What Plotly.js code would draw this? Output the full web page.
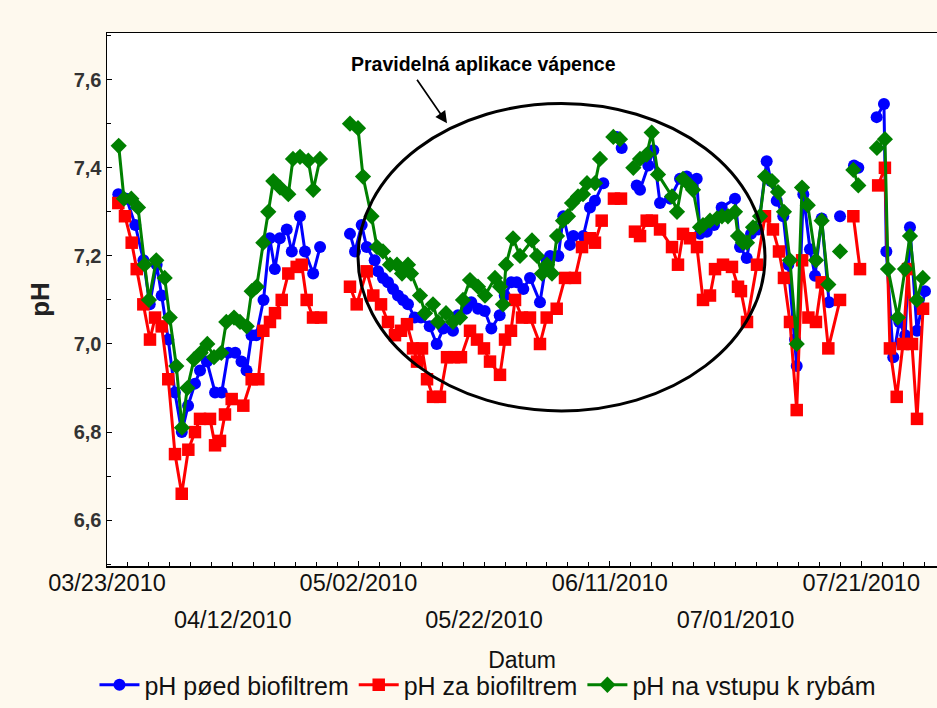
<!DOCTYPE html>
<html><head><meta charset="utf-8">
<script src="https://cdn.plot.ly/plotly-3.0.1.min.js"></script>
<style>html,body{margin:0;padding:0;background:#fef9ee}</style>
</head><body>
<div id="chart" style="width:937px;height:708px"></div>
<script>
// day offsets from 2010-03-23, pH values (null = gap in the record)
const blueData = [[1.8,7.34],[3.1,7.33],[4.5,7.27],[5.8,7.19],[6.8,7.09],[7.9,7.18],[8.7,7.11],[9.75,7.01],[10.8,6.89],[11.9,6.80],[12.9,6.86],[14.0,6.91],[14.8,6.94],[15.9,6.96],[17.2,6.89],[18.25,6.89],[19.3,6.98],[20.4,6.98],[21.4,6.96],[22.2,6.94],[23.0,7.02],[23.75,7.02],[24.9,7.10],[25.9,7.24],[26.7,7.17],[27.5,7.24],[28.6,7.26],[29.4,7.21],[30.7,7.29],[31.5,7.21],[32.8,7.16],[33.9,7.22],[36,null],
[38.66,7.25],[39.46,7.21],[40.52,7.27],[41.32,7.22],[42.59,7.19],[43.12,7.165],[43.91,7.15],[44.71,7.14],[45.51,7.125],[46.3,7.11],[47.1,7.10],[47.89,7.09],[48.96,7.06],[49.96,7.06],[51.34,7.04],[52.46,7.00],[53.51,7.035],[55.05,7.03],[55.85,7.065],[57.17,7.08],[57.96,7.095],[59.03,7.08],[60.1,7.075],[61.15,7.035],[62.48,7.065],[63.28,7.11],[64.33,7.14],[65.19,7.14],[66.24,7.125],[67.3,7.15],[68.89,7.095],[69.96,7.19],[70.49,7.20],[71.81,7.20],[72.6,7.29],[73.66,7.225],[74.19,7.245],[75.78,7.245],[76.85,7.31],[77.64,7.325],[78.97,7.365],[80,null],
[81.1,7.47],[81.89,7.445],[82.8,null],
[84.28,7.36],[84.81,7.35],[86.13,7.405],[86.92,7.44],[87.99,7.32],[89.58,7.33],[91.17,7.375],[92.24,7.38],[93.83,7.375],[94.35,7.25],[95.42,7.255],[96.58,7.27],[97.8,7.31],[99.92,7.33],[100.72,7.22],[101.78,7.195],[102.47,7.25],[103.6,7.26],[104.96,7.415],[105.65,7.37],[106.56,7.325],[107.6,7.29],[108.4,7.18],[109.47,7.01],[109.74,6.95],[110.79,7.34],[111.85,7.215],[112.65,7.155],[113.71,7.285],[114.88,7.095],[115.8,null],
[116.63,7.29],[117.8,null],
[118.85,7.405],[119.54,7.40],[121,null],
[122.46,7.515],[123.62,7.545],[124.0,7.21],[125.1,6.97],[126.06,7.05],[127.0,7.02],[127.76,7.265],[128.88,7.03],[130.15,7.12]];

const redData = [[1.8,7.32],[2.86,7.29],[3.93,7.23],[4.73,7.17],[5.78,7.09],[6.84,7.01],[7.64,7.06],[8.70,7.04],[9.75,6.92],[10.82,6.75],[11.89,6.66],[12.94,6.76],[14.0,6.80],[14.8,6.83],[16.39,6.83],[17.19,6.77],[17.98,6.78],[18.77,6.84],[19.84,6.875],[21.69,6.86],[23.02,6.92],[24.07,6.92],[24.87,7.03],[25.93,7.05],[26.73,7.07],[27.80,7.10],[28.85,7.16],[30.18,7.175],[30.98,7.18],[31.77,7.10],[32.78,7.06],[34.05,7.06],[36,null],
[38.66,7.13],[39.73,7.09],[41.32,7.165],[42.37,7.11],[43.6,7.09],[44.71,7.05],[45.82,7.02],[46.78,7.03],[47.73,7.045],[48.69,6.99],[49.33,6.96],[50.12,6.99],[50.92,6.92],[51.87,6.88],[52.98,6.88],[54.1,6.97],[55.21,6.97],[56.32,6.97],[57.76,7.03],[58.87,7.01],[59.98,6.99],[60.94,6.96],[62.53,6.93],[63.33,7.01],[64.28,7.03],[64.92,7.10],[66.03,7.06],[67.3,7.06],[68.89,7.00],[69.96,7.06],[71.55,7.08],[72.87,7.15],[74.46,7.15],[75.58,7.22],[76.85,7.24],[77.64,7.23],[78.71,7.28],[79.8,null],
[80.66,7.33],[81.78,7.33],[82.8,null],
[84.0,7.255],[84.81,7.245],[85.87,7.28],[86.71,7.28],[87.99,7.26],[89.9,7.22],[90.85,7.18],[91.65,7.25],[92.76,7.24],[93.87,7.22],[94.83,7.10],[95.94,7.11],[96.74,7.17],[98.01,7.18],[99.44,7.175],[100.4,7.13],[100.87,7.12],[101.83,7.05],[103.42,7.18],[104.69,7.29],[105.96,7.26],[106.92,7.21],[107.71,7.15],[108.67,7.05],[109.74,6.85],[110.6,7.19],[111.6,7.06],[112.8,7.05],[113.71,7.14],[114.77,6.99],[116.63,7.10],[117.8,null],
[118.75,7.29],[119.81,7.17],[121,null],
[122.7,7.36],[123.77,7.40],[124.57,6.99],[125.65,6.88],[126.65,7.00],[127.45,7.17],[128.08,7.00],[128.88,6.83],[129.84,7.08]];

const greenData = [[1.86,7.45],[2.70,7.33],[3.87,7.33],[4.93,7.31],[6.0,7.18],[6.68,7.10],[7.84,7.19],[9.18,7.15],[9.98,7.06],[11.03,6.95],[11.93,6.81],[12.78,6.90],[13.84,6.965],[14.91,6.98],[15.96,7.00],[17.02,6.97],[18.19,6.98],[18.98,7.05],[20.21,7.06],[21.16,7.05],[22.23,7.04],[23.02,7.12],[23.82,7.13],[24.87,7.23],[25.66,7.30],[26.46,7.37],[27.53,7.355],[28.85,7.34],[29.59,7.42],[30.71,7.425],[32.03,7.416],[32.82,7.35],[33.89,7.42],[36,null],
[38.66,7.50],[39.94,7.49],[40.73,7.38],[42.08,7.29],[42.96,7.22],[43.91,7.21],[45.03,7.18],[46.14,7.18],[46.94,7.16],[47.89,7.18],[48.37,7.16],[49.8,7.11],[50.6,7.07],[51.87,7.09],[52.66,7.05],[53.94,7.07],[55.05,7.05],[56.17,7.06],[56.64,7.10],[57.76,7.145],[59.03,7.13],[60.14,7.11],[61.73,7.15],[62.53,7.13],[63.0,7.09],[63.48,7.18],[64.6,7.24],[65.71,7.20],[67.62,7.235],[68.42,7.20],[69.21,7.16],[70.01,7.18],[70.8,7.16],[71.6,7.245],[72.55,7.28],[73.35,7.29],[73.99,7.32],[74.94,7.335],[75.74,7.34],[76.37,7.365],[77.64,7.365],[78.44,7.42],[79.7,null],
[80.56,7.47],[81.62,7.465],[82.6,null],
[83.74,7.40],[84.81,7.42],[85.87,7.43],[86.67,7.48],[87.67,7.385],[89.9,7.335],[90.69,7.30],[91.65,7.375],[92.76,7.36],[93.24,7.35],[94.35,7.265],[94.83,7.27],[95.94,7.28],[97.05,7.285],[97.84,7.29],[98.8,7.29],[99.92,7.30],[100.4,7.245],[101.19,7.23],[101.83,7.23],[102.79,7.265],[103.9,7.29],[104.69,7.38],[105.8,7.37],[106.76,7.345],[107.71,7.30],[108.67,7.19],[109.74,7.00],[110.58,7.355],[111.5,7.315],[112.8,7.19],[113.71,7.28],[114.77,7.135],[115.8,null],
[116.63,7.21],[117.8,null],
[118.75,7.395],[119.54,7.36],[121,null],
[122.5,7.445],[123.77,7.465],[124.26,7.17],[125.82,7.06],[126.97,7.17],[127.76,7.245],[128.86,7.10],[129.8,7.15]];

const seriesNames = ['pH pøed biofiltrem','pH za biofiltrem','pH na vstupu k rybám'];
const tickRow1 = ['2010-03-23','2010-05-02','2010-06-11','2010-07-21'];
const tickRow2 = ['2010-04-12','2010-05-22','2010-07-01'];
const noteText = 'Pravidelná aplikace vápence';

const DAY = 86400000, T0 = Date.UTC(2010,2,23);
function toDate(d){ return new Date(T0 + d*DAY).toISOString().slice(0,19).replace('T',' '); }
function lbl(s){ const p=s.split('-'); return p[1]+'/'+p[2]+'/'+p[0]; }

function mk(data, name, color, symbol, size){
  return {x:data.map(p=>toDate(p[0])), y:data.map(p=>p[1]), name:name, type:'scatter', mode:'lines+markers',
    connectgaps:false, line:{color:color,width:3}, marker:{color:color,symbol:symbol,size:size}};
}
const traces = [
  mk(blueData, seriesNames[0], '#0000ff', 'circle', 12),
  mk(redData, seriesNames[1], '#ff0000', 'square', 12.5),
  mk(greenData, seriesNames[2], '#008000', 'diamond', 12.5),
  {x:[], y:[], xaxis:'x2', showlegend:false, hoverinfo:'skip', type:'scatter'}
];

const FONT = 'Liberation Sans, Arial, sans-serif';
const xr = [toDate(0), toDate(132.06)];
const layout = {
  width:937, height:708,
  paper_bgcolor:'#fef9ee', plot_bgcolor:'#ffffff',
  margin:{l:107, r:0, t:33, b:139},
  separators:', ',
  showlegend:true,
  font:{family:FONT, color:'#222'},
  xaxis:{type:'date', range:xr, showline:true, mirror:true, linecolor:'#000', linewidth:1.5,
    showgrid:false, zeroline:false, ticks:'inside', ticklen:5, tickcolor:'#000',
    tickmode:'array', tickvals:tickRow1, ticktext:tickRow1.map(lbl), ticklabelstandoff:-5,
    tickfont:{size:23.5, family:FONT, color:'#111'},
    minor:{ticks:'inside', ticklen:4, tickcolor:'#000', tick0:'2010-03-23', dtick:20*DAY/6, showgrid:false},
    title:{text:'Datum', font:{size:23, family:FONT, color:'#111'}, standoff:57}},
  xaxis2:{type:'date', range:xr, overlaying:'x', anchor:'y', side:'bottom', showline:false, showgrid:false, zeroline:false,
    ticks:'', tickmode:'array', tickvals:tickRow2, ticktext:tickRow2.map(lbl), ticklabelstandoff:37,
    tickfont:{size:23.5, family:FONT, color:'#111'}},
  yaxis:{range:[6.496,7.706], showline:true, mirror:false, linecolor:'#000', linewidth:1.5, showgrid:false, zeroline:false,
    ticks:'inside', ticklen:5, tickcolor:'#000', dtick:0.2, tick0:6.6, tickformat:'.1f',
    minor:{ticks:'inside', ticklen:4, tickcolor:'#000', dtick:0.1, showgrid:false},
    tickfont:{size:20, family:FONT, color:'#333', weight:'bold'},
    title:{text:'pH', font:{size:26, family:FONT, color:'#222', weight:'bold'}, standoff:16}},
  legend:{orientation:'h', x:0.459, xanchor:'center', y:-0.224, yanchor:'middle', bgcolor:'rgba(0,0,0,0)',
    font:{size:25, family:FONT, color:'#111'}, itemwidth:40, traceorder:'normal'},
  shapes:[{type:'circle', xref:'x', yref:'y', x0:toDate(39.94), x1:toDate(104.69), y0:6.848, y1:7.546,
    line:{color:'#000', width:3}}],
  annotations:[
    {x:toDate(59.98), y:7.636, xref:'x', yref:'y', text:'<b>'+noteText+'</b>', showarrow:false,
      font:{size:19.5, family:FONT, color:'#000'}},
    {x:toDate(54.1), y:7.501, xref:'x', yref:'y', text:'', showarrow:true, ax:-31, ay:-45,
      arrowhead:2, arrowsize:1.4, arrowwidth:1.7, arrowcolor:'#000'}
  ]
};
Plotly.newPlot('chart', traces, layout, {displayModeBar:false, staticPlot:true});
</script>
</body></html>
